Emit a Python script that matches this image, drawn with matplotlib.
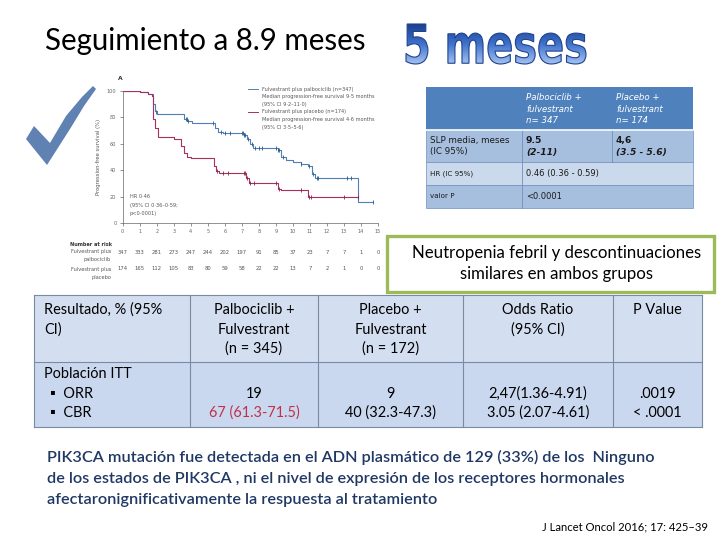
import numpy as np
import matplotlib.pyplot as plt
from matplotlib.patches import Rectangle, Polygon, PathPatch
from matplotlib.textpath import TextPath
from matplotlib.font_manager import FontProperties
from matplotlib.transforms import Affine2D
from matplotlib.colors import LinearSegmentedColormap

# --- datos ---
title_text = 'Seguimiento a 8.9 meses'
big_text = '5 meses'

months = list(range(16))
pct_ticks = [0, 20, 40, 60, 80, 100]

# curvas de Kaplan-Meier
palbo_t = [0, 1.0, 1.5, 1.8, 1.9, 2.0, 3.6, 3.8, 4.1, 5.4, 5.6, 5.9, 7.1, 7.3, 7.5, 7.65,
           9.1, 9.3, 9.6, 10.0, 10.5, 10.9, 11.1, 11.3, 13.8, 14.7]
palbo_s = [100, 99, 98, 90, 85, 82.5, 79, 77, 75.5, 72, 69, 68.5, 67, 64, 60, 57,
           55, 50, 48, 46.5, 45, 43, 37, 34, 16, 16]
placebo_t = [0, 1.0, 1.5, 1.7, 1.8, 1.9, 2.1, 3.0, 3.45, 3.6, 3.8, 4.0, 5.35, 5.5, 5.65,
             7.25, 7.4, 7.55, 9.15, 9.3, 10.9, 13.8]
placebo_s = [100, 99, 98, 96, 79, 72, 65, 63.5, 58, 53, 50, 49, 43, 39.5, 38,
             34, 30.5, 30.5, 26, 25, 20, 20]

palbo_cens_t = [1.95, 3.7, 3.75, 3.85, 5.3, 5.8, 6.0, 6.3, 7.0, 7.05, 7.15, 7.2, 7.35, 7.6,
                7.8, 8.0, 8.2, 9.0, 9.15, 9.2, 9.4, 10.5, 10.95, 11.2, 11.4, 11.5, 13.2, 13.4, 14.7]
palbo_cens_s = [84, 79, 79, 77, 75.5, 69, 68.5, 68.5, 68.5, 68.5, 67, 67, 64, 60,
                57, 57, 57, 57, 55, 55, 50, 45, 43, 37, 34, 34, 34, 34, 16]
placebo_cens_t = [5.55, 5.9, 6.2, 7.1, 7.2, 7.3, 7.5, 7.7, 9.0, 9.2, 10.5, 10.95, 11.05, 13.0, 13.8]
placebo_cens_s = [39.5, 38, 38, 38, 38, 34, 30.5, 30.5, 30.5, 26, 25, 20, 20, 20, 20]

risk_palbo = [347, 333, 281, 273, 247, 244, 202, 197, 91, 85, 37, 23, 7, 7, 1, 0]
risk_placebo = [174, 165, 112, 105, 83, 80, 59, 58, 22, 22, 13, 7, 2, 1, 0, 0]

legend_palbo = ['Fulvestrant plus palbociclib (n=347)',
                'Median progression-free survival 9·5 months',
                '(95% CI 9·2–11·0)']
legend_placebo = ['Fulvestrant plus placebo (n=174)',
                  'Median progression-free survival 4·6 months',
                  '(95% CI 3·5–5·6)']
hr_lines = ['HR 0·46', '(95% CI 0·36–0·59;', 'p<0·0001)']

# tabla superior
slp_head = ['Palbociclib +\nfulvestrant\nn= 347', 'Placebo +\nfulvestrant\nn= 174']
slp_label = ['SLP media, meses\n(IC 95%)', 'HR (IC 95%)', 'valor P']
slp_palbo = ['9.5', '(2-11)']
slp_placebo = ['4,6', '(3.5 - 5.6)']
hr_value = '0.46 (0.36 - 0.59)'
p_value = '<0.0001'

box_lines = ['Neutropenia febril y descontinuaciones', 'similares en ambos grupos']

# tabla inferior
res_head = [['Resultado, % (95%', 'CI)'],
            ['Palbociclib +', 'Fulvestrant', '(n = 345)'],
            ['Placebo +', 'Fulvestrant', '(n = 172)'],
            ['Odds Ratio', '(95% CI)'],
            ['P Value']]
res_label = ['Población ITT', '▪  ORR', '▪  CBR']
res_palbo = ['19', '67 (61.3-71.5)']
res_placebo = ['9', '40 (32.3-47.3)']
res_or = ['2,47(1.36-4.91)', '3.05 (2.07-4.61)']
res_p = ['.0019', '< .0001']

para_lines = ['PIK3CA mutación fue detectada en el ADN plasmático de 129 (33%) de los  Ninguno',
              'de los estados de PIK3CA , ni el nivel de expresión de los receptores hormonales',
              'afectaronignificativamente la respuesta al tratamiento']
cite = 'J Lancet Oncol 2016; 17: 425–39'

SANS = ['Lato', 'DejaVu Sans']
PT = 0.72  # px -> pt a 100 dpi

fig = plt.figure(figsize=(7.2, 5.4), dpi=100)
bg = fig.add_axes([0, 0, 1, 1])
bg.set_xlim(0, 720)
bg.set_ylim(540, 0)
bg.axis('off')

def txt(x, y, s, px, **kw):
    kw.setdefault('family', SANS)
    kw.setdefault('va', 'center')
    return bg.text(x, y, s, fontsize=px * PT, **kw)

# titulo
txt(45, 41, title_text, 29.5, color='black')

# "5 meses" con degradado
fp = FontProperties(family='DejaVu Sans', weight='bold')
tp = TextPath((0, 0), big_text, size=50, prop=fp)
ext = tp.get_extents()
x0, x1, y0, y1 = 406, 586, 24, 64
tr = (Affine2D().translate(-ext.x0, -ext.y0)
      .scale((x1 - x0) / ext.width, -(y1 - y0) / ext.height)
      .translate(x0, y1) + bg.transData)
tpatch = PathPatch(tp, transform=tr, facecolor='none', edgecolor='#1f438f', lw=0.8, zorder=3)
bg.add_patch(tpatch)
gcmap = LinearSegmentedColormap.from_list('g', ['#1b3f8f', '#3f72cc', '#a4c2f0'])
im = bg.imshow(np.linspace(0, 1, 256).reshape(-1, 1), extent=(x0, x1, y1, y0),
               cmap=gcmap, aspect='auto', zorder=2)
im.set_clip_path(tpatch)
bg.set_xlim(0, 720)
bg.set_ylim(540, 0)

# marca de verificacion
check = [(26, 139), (34, 126), (50, 143), (66, 116), (82, 97), (93, 86), (96, 89),
         (84, 106), (70, 129), (47, 165)]
bg.add_patch(Polygon(check, closed=True, facecolor='#5f82b2', edgecolor='none'))

# --- curva KM ---
ax = fig.add_axes([122.7 / 720, 1 - 223 / 540, (378 - 122.7) / 720, (223 - 91) / 540])
ax.patch.set_alpha(0)
blue, red = '#4f80b3', '#a83060'
ax.step(palbo_t, palbo_s, where='post', color=blue, lw=0.8)
ax.step(placebo_t, placebo_s, where='post', color=red, lw=0.8)
ax.plot(palbo_cens_t, palbo_cens_s, ls='none', marker='|', ms=2.5, mew=0.6, color='#2d5a8a')
ax.plot(placebo_cens_t, placebo_cens_s, ls='none', marker='|', ms=2.5, mew=0.6, color='#8c2050')
ax.set_xlim(0, 15)
ax.set_ylim(0, 100)
ax.set_xticks(months)
ax.set_yticks(pct_ticks)
for s in ['top', 'right']:
    ax.spines[s].set_visible(False)
for s in ['left', 'bottom']:
    ax.spines[s].set_color('#666666')
    ax.spines[s].set_linewidth(0.5)
ax.tick_params(length=2, width=0.5, colors='#666666', labelsize=3.6, pad=2.5)
ax.set_ylabel('Progression-free survival (%)', fontsize=3.8, color='#555555', labelpad=4)

txt(118, 78, 'A', 6, family='DejaVu Sans', fontweight='bold', color='#333333')
for i, s in enumerate(legend_palbo + legend_placebo):
    txt(262, 89 + 7.6 * i, s, 5, family='DejaVu Sans', color='#555555')
bg.plot([248, 258], [89, 89], color=blue, lw=0.7)
bg.plot([248, 258], [111.8, 111.8], color=red, lw=0.7)
for i, s in enumerate(hr_lines):
    txt(130, 197 + 8 * i, s, 5, family='DejaVu Sans', color='#555555')

# numbers at risk
txt(70, 244, 'Number at risk', 5, family='DejaVu Sans', fontweight='bold', color='#333333')
for yy, lab in [(252, 'Fulvestrant plus'), (260, 'palbociclib'),
                (269, 'Fulvestrant plus'), (277, 'placebo')]:
    txt(111, yy, lab, 5, family='DejaVu Sans', color='#555555', ha='right')
for m, a, b in zip(months, risk_palbo, risk_placebo):
    xp = 122.7 + m * (378 - 122.7) / 15
    txt(xp, 252, str(a), 5.2, family='DejaVu Sans', color='#555555', ha='center')
    txt(xp, 269, str(b), 5.2, family='DejaVu Sans', color='#555555', ha='center')

# --- tabla superior ---
tx = [426, 522, 612, 693]
ty = [87, 130, 162, 185, 208]
head_c, mid_c, light_c, line_c = '#4f81bd', '#a7bfdf', '#cbd9ed', '#6f8fbd'
bg.add_patch(Rectangle((tx[0], ty[0]), tx[3] - tx[0], ty[1] - ty[0], facecolor=head_c, edgecolor='none'))
row_cols = [mid_c, light_c, mid_c]
for r in range(3):
    bg.add_patch(Rectangle((tx[0], ty[r + 1]), tx[3] - tx[0], ty[r + 2] - ty[r + 1],
                           facecolor=row_cols[r], edgecolor=line_c, lw=0.5))
bg.plot([tx[1], tx[1]], [ty[1], ty[4]], color=line_c, lw=0.6)
bg.plot([tx[2], tx[2]], [ty[1], ty[2]], color=line_c, lw=0.6)
bg.plot([tx[0], tx[3]], [ty[1], ty[1]], color='white', lw=1.2)
for j, s in enumerate(slp_head):
    txt(tx[j + 1] + 4, 109, s, 8.6, family='DejaVu Sans', color='white', style='italic',
        linespacing=1.3)
txt(tx[0] + 4, 146, slp_label[0], 8.8, family='DejaVu Sans', color='#1a1a1a', linespacing=1.3)
txt(tx[0] + 4, 173.5, slp_label[1], 7.2, family='DejaVu Sans', color='#1a1a1a')
txt(tx[0] + 4, 196.5, slp_label[2], 7.2, family='DejaVu Sans', color='#1a1a1a')
for xx, vals in [(tx[1] + 4, slp_palbo), (tx[2] + 4, slp_placebo)]:
    txt(xx, 140.5, vals[0], 9.2, family='DejaVu Sans', fontweight='bold', color='#1a1a1a')
    txt(xx, 153, vals[1], 9.2, family='DejaVu Sans', fontweight='bold', style='italic', color='#1a1a1a')
txt(tx[1] + 4, 173.5, hr_value, 8.4, family='DejaVu Sans', color='#1a1a1a')
txt(tx[1] + 4, 196.5, p_value, 8.4, family='DejaVu Sans', color='#1a1a1a')

# --- recuadro verde ---
bg.add_patch(Rectangle((387, 236), 327, 56, facecolor='white', edgecolor='#9bbb59', lw=2.4))
txt(557, 253, box_lines[0], 16.8, ha='center', color='black')
txt(557, 274, box_lines[1], 16.8, ha='center', color='black')

# --- tabla inferior ---
bx = [34, 190, 318, 463, 613, 702]
by = [295, 362, 427]
tline = '#7b8aa3'
bg.add_patch(Rectangle((bx[0], by[0]), bx[-1] - bx[0], by[1] - by[0], facecolor='#d3dff0', edgecolor='none'))
bg.add_patch(Rectangle((bx[0], by[1]), bx[-1] - bx[0], by[2] - by[1], facecolor='#cad8ef', edgecolor='none'))
for yy in by:
    bg.plot([bx[0], bx[-1]], [yy, yy], color=tline, lw=0.8)
for xx in bx:
    bg.plot([xx, xx], [by[0], by[2]], color=tline, lw=0.8)
hy = [310, 329.5, 349]
for j, lines in enumerate(res_head):
    for k, s in enumerate(lines):
        if j == 0:
            txt(bx[0] + 10, hy[k], s, 14.5, color='black')
        else:
            txt((bx[j] + bx[j + 1]) / 2, hy[k], s, 14.5, color='black', ha='center')
ry = [374, 393.5, 413]
for k, s in enumerate(res_label):
    txt(bx[0] + 10 if k == 0 else bx[0] + 16, ry[k], s, 14.5, color='black')
cols = [res_palbo, res_placebo, res_or, res_p]
for j, vals in enumerate(cols):
    for k, s in enumerate(vals):
        c = '#c0304a' if (j == 0 and k == 1) else 'black'
        txt((bx[j + 1] + bx[j + 2]) / 2, ry[k + 1], s, 14.5, color=c, ha='center')

# --- parrafo y cita ---
for i, s in enumerate(para_lines):
    txt(47, 457 + 21.5 * i, s, 16.2, color='#1f3864', fontweight='semibold')
txt(708, 527, cite, 11.2, color='black', ha='right')

fig.savefig('out.png', dpi=100)
